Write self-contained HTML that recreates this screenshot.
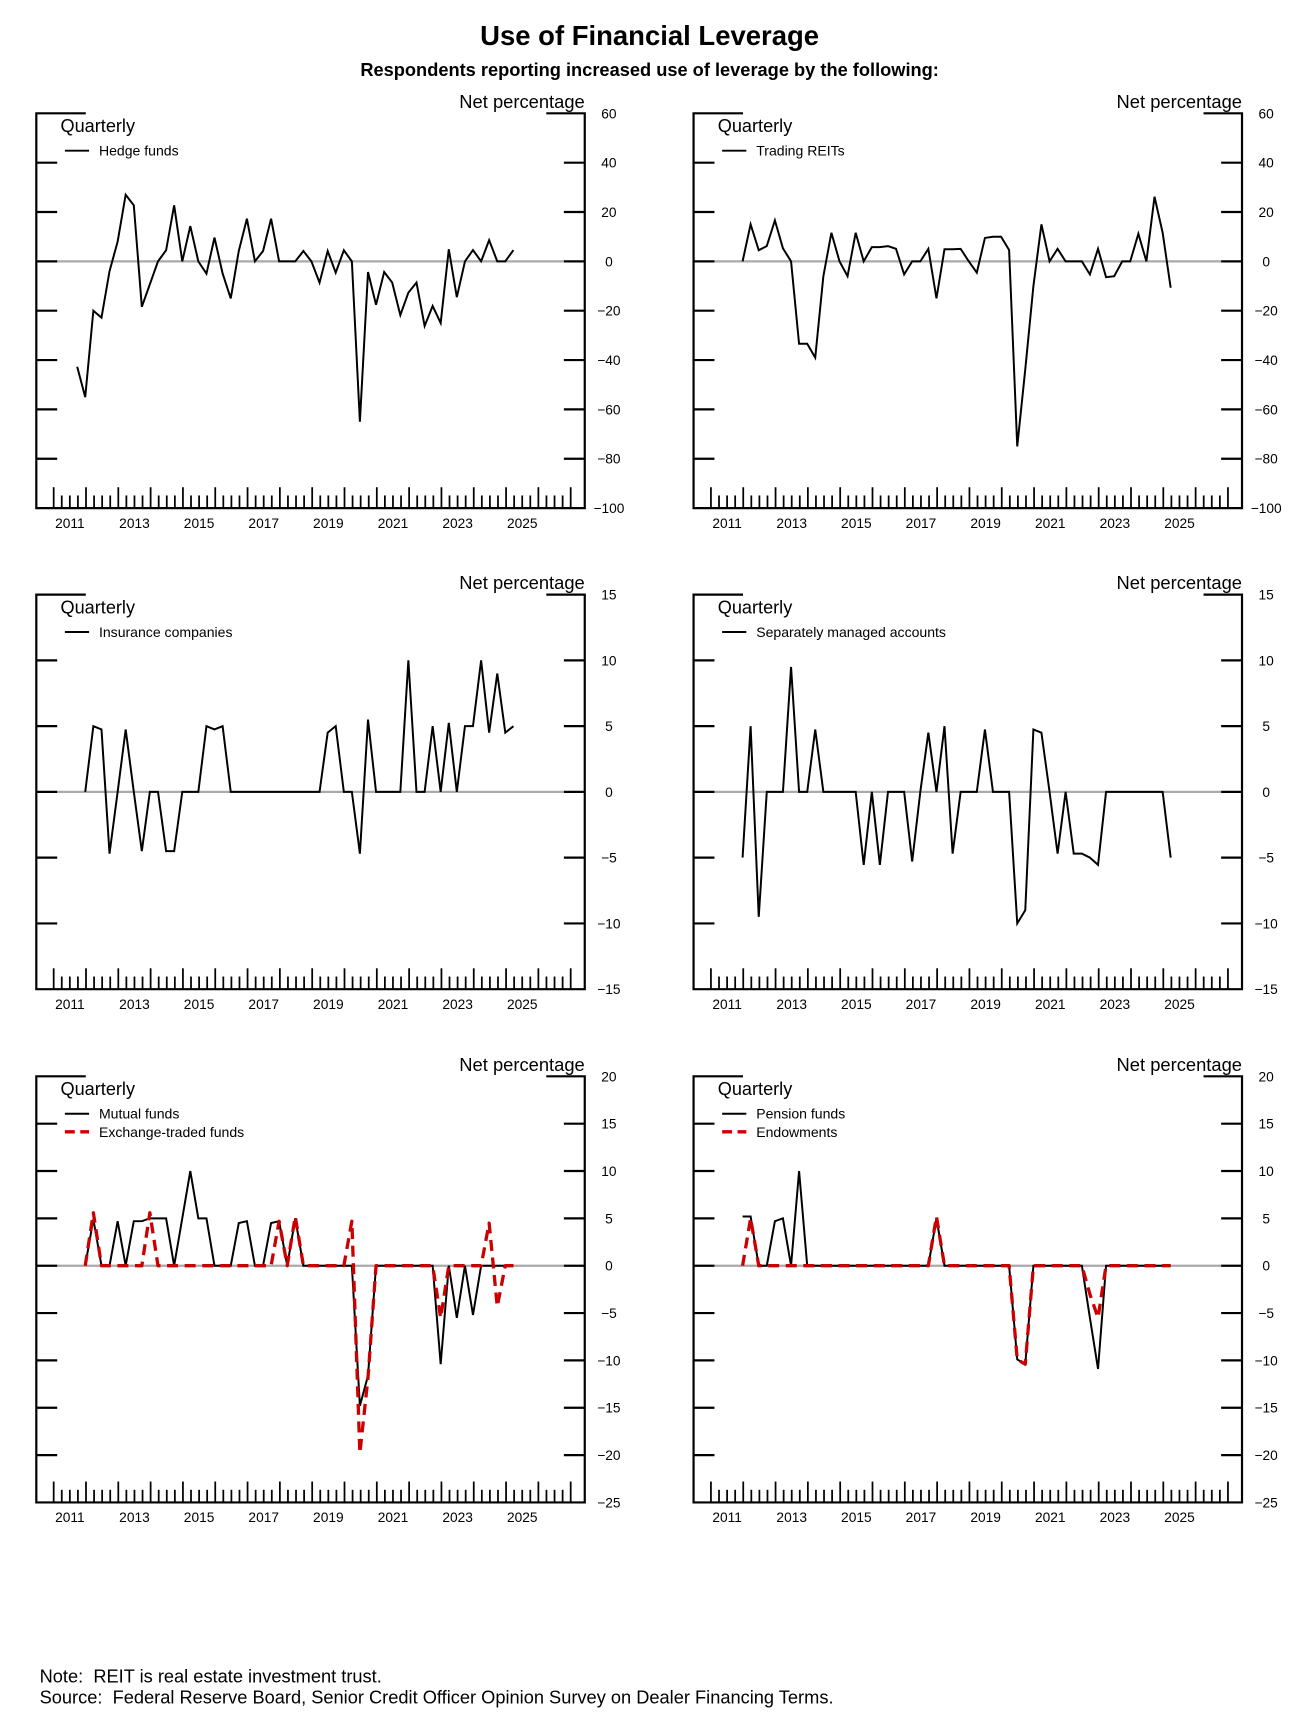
<!DOCTYPE html>
<html><head><meta charset="utf-8"><style>
html,body{margin:0;padding:0;background:#fff;}
svg{display:block;font-family:"Liberation Sans",Arial,sans-serif;}
</style></head><body>
<svg id="s" width="1308" height="1726" viewBox="0 0 1190 1570.4" xmlns="http://www.w3.org/2000/svg"></svg>
<script>
var out=[];
out.push('<rect width="1190" height="1570.4" fill="#fff"/>');
out.push('<text x="591" y="41" font-size="25" font-weight="bold" text-anchor="middle">Use of Financial Leverage</text>');
out.push('<text x="591" y="69" font-size="16.6" font-weight="bold" text-anchor="middle">Respondents reporting increased use of leverage by the following:</text>');
function panel(ox,top,bot,ymax,ymin,step,legend,series){
  var L=33+ox,R=532+ox;
  var sc=function(v){return top+(ymax-v)/(ymax-ymin)*(bot-top);};
  var s='';
  s+='<line x1="'+(L+19)+'" x2="'+(R-19)+'" y1="'+sc(0)+'" y2="'+sc(0)+'" stroke="#aaa" stroke-width="2"/>';
  s+='<path d="M'+(L+45)+' '+top+' H'+L+' V'+bot+' H'+R+' V'+top+' H'+(R-35)+'" fill="none" stroke="#000" stroke-width="2"/>';
  for(var v=ymax;v>=ymin;v-=step){
    var y=sc(v);
    if(v!=ymax&&v!=ymin){
      s+='<line x1="'+L+'" x2="'+(L+19)+'" y1="'+y+'" y2="'+y+'" stroke="#000" stroke-width="2"/>';
      s+='<line x1="'+(R-19)+'" x2="'+R+'" y1="'+y+'" y2="'+y+'" stroke="#000" stroke-width="2"/>';
    }
    s+='<text x="'+(554+ox)+'" y="'+(y+4.5)+'" font-size="12.5" text-anchor="middle">'+(v<0?'\u2212'+(-v):v)+'</text>';
  }
  for(var q=0;q<=64;q++){
    var x=48.8+ox+q*29.4/4;
    var h=(q%4==0)?19:11.5;
    s+='<line x1="'+x+'" x2="'+x+'" y1="'+bot+'" y2="'+(bot-h)+'" stroke="#000" stroke-width="1.6"/>';
  }
  for(var yr=2011;yr<=2025;yr+=2){
    var x=48.8+ox+(yr-2011)*29.4+14.7;
    s+='<text x="'+x+'" y="'+(bot+18)+'" font-size="12.5" text-anchor="middle">'+yr+'</text>';
  }
  s+='<text x="'+R+'" y="'+(top-5)+'" font-size="16.7" text-anchor="end">Net percentage</text>';
  s+='<text x="'+(55+ox)+'" y="'+(top+17)+'" font-size="16.5">Quarterly</text>';
  for(var k=0;k<legend.length;k++){
    var ly=top+34+k*16.5;
    if(legend[k][1]) s+='<line x1="'+(59+ox)+'" x2="'+(81+ox)+'" y1="'+ly+'" y2="'+ly+'" stroke="#c00" stroke-width="3" stroke-dasharray="9,5"/>';
    else s+='<line x1="'+(59+ox)+'" x2="'+(81+ox)+'" y1="'+ly+'" y2="'+ly+'" stroke="#000" stroke-width="1.8"/>';
    s+='<text x="'+(90+ox)+'" y="'+(ly+4.5)+'" font-size="12.8">'+legend[k][0]+'</text>';
  }
  for(var k=0;k<series.length;k++){
    var d=series[k][0],pts=[];
    var base=ox?225:183;
    for(var i=0;i<d.length;i++){
      var idx=Math.round((d[i][0]-base)/19.15);
      pts.push((70.2+ox+7.35*idx).toFixed(1)+','+sc(d[i][1]).toFixed(1));
    }
    if(series[k][1]) s+='<polyline points="'+pts.join(' ')+'" fill="none" stroke="#c00" stroke-width="3" stroke-dasharray="10,6" stroke-linejoin="round"/>';
    else s+='<polyline points="'+pts.join(' ')+'" fill="none" stroke="#000" stroke-width="1.8" stroke-linejoin="miter"/>';
  }
  out.push(s);
}
function seq(a){var r=[];for(var i=0;i<a.length;i+=2)r.push([a[i],a[i+1]]);return r;}
var hedge=seq([183,-42.7,203,-55,222,-20,241,-22.8,260,-4,279,8,299,27,318,22.7,337,-18.4,356,-9.3,375,0,394,4.5,413,22.7,433,0,452,14.3,471,0,490,-5,509,9.6,528,-4.9,547,-15,566,4.2,585,17.3,605,0,624,4.2,643,17.3,662,0,681,0,700,0,720,4.2,739,0,758,-8.6,777,4.2,796,-4.6,815,4.5,835,0,854,-65,873,-4.3,892,-17.6,911,-4.3,931,-8.6,950,-21.8,969,-12.7,988,-8.6,1007,-26.2,1027,-18.1,1046,-25,1065,4.9,1085,-14.5,1104,0,1123,4.6,1142,0,1161,8.6,1180,0,1199,0,1218,4.6]);
var reit=seq([244,0,263,15,283,4.5,302,6.2,321,16.6,340,5.3,360,0,379,-33.4,398,-33.4,417,-39,436,-6,455,11.6,475,0,494,-6,513,11.6,532,0,551,5.8,570,5.8,590,6.2,609,5.1,628,-5.3,647,0,666,0,685,5.1,705,-15,724,4.9,743,4.9,762,5.1,781,0,800,-4.6,820,9.5,839,10,858,10,877,4.6,896,-75,915,-43.8,934,-10,953,15,973,0,992,5.1,1011,0,1030,0,1049,0,1069,-5.3,1088,5.1,1107,-6.4,1126,-6,1145,0,1165,0,1184,11.2,1203,0,1222,26.2,1241,11.6,1261,-10.7]);
function zr(a,b,st){var r=[];for(var x=a;x<=b+1;x+=19.15)r.push(Math.round(x),0);return r;}
var ins=seq([203,0,222,5,241,4.75,260,-4.7,279,0,299,4.75,318,0,337,-4.5,356,0,375,0,394,-4.5,413,-4.5,433,0,452,0,471,0,490,5,509,4.75,528,5].concat(zr(547,758),[777,4.5,796,5,815,0,835,0,854,-4.7,873,5.5,892,0,911,0,931,0,950,0,969,10,988,0,1007,0,1027,5,1046,0,1065,5.25,1085,0,1104,5,1123,5,1142,10,1161,4.5,1180,9,1199,4.5,1218,5]));
var sma=seq([244,-5,263,5,283,-9.5,302,0,321,0,340,0,360,9.5,379,0,398,0,417,4.75,436,0,455,0,475,0,494,0,513,0,532,-5.55,551,0,570,-5.55,590,0,609,0,628,0,647,-5.3,666,0,685,4.5,705,0,724,5,743,-4.7,762,0,781,0,800,0,820,4.75,839,0,858,0,877,0,896,-10,915,-9,934,4.75,953,4.5,973,0,992,-4.7,1011,0,1030,-4.7,1049,-4.7,1069,-5,1088,-5.55].concat(zr(1107,1241),[1261,-5]));
var mf=seq([203,0,222,4.9,241,0,260,0,279,4.7,299,0,318,4.7,337,4.7,356,5,375,5,394,5,413,0,433,5,452,10,471,5,490,5,509,0,528,0,547,0,566,4.5,585,4.7,605,0,624,0,643,4.5,662,4.7,681,0,700,5].concat(zr(720,835),[854,-14.8,873,-11.6],zr(892,1027),[1046,-10.4,1065,0,1085,-5.5,1104,0,1123,-5.2],zr(1142,1218)));
var etf=seq([203,0,222,5.6].concat(zr(241,337),[356,5.6],zr(375,643),[662,4.7,681,0,700,5.2],zr(720,815),[835,4.7,854,-19.8,873,-11.8],zr(892,1027),[1046,-5.5],zr(1065,1142),[1161,4.5,1180,-4.3,1199,0,1218,0]));
var pen=seq([244,5.2,263,5.2,283,0,302,0,321,4.7,340,5,360,0,379,10].concat(zr(398,685),[705,5],zr(724,877),[896,-9.9,915,-10.4],zr(934,1049),[1069,-5.5,1088,-10.9],zr(1107,1261)));
var endo=seq([244,0,263,5].concat(zr(283,685),[705,5.2],zr(724,877),[896,-9.9,915,-10.4],zr(934,1049),[1069,-3,1088,-5.5],zr(1107,1261)));
panel(0,103.1,462.3,60,-100,20,[['Hedge funds',0]],[[hedge,0]]);
panel(598,103.1,462.3,60,-100,20,[['Trading REITs',0]],[[reit,0]]);
panel(0,541,900,15,-15,5,[['Insurance companies',0]],[[ins,0]]);
panel(598,541,900,15,-15,5,[['Separately managed accounts',0]],[[sma,0]]);
panel(0,979.3,1367,20,-25,5,[['Mutual funds',0],['Exchange-traded funds',1]],[[mf,0],[etf,1]]);
panel(598,979.3,1367,20,-25,5,[['Pension funds',0],['Endowments',1]],[[pen,0],[endo,1]]);
out.push('<text x="36" y="1531" font-size="16.6" xml:space="preserve">Note:  REIT is real estate investment trust.</text>');
out.push('<text x="36" y="1550" font-size="16.6" xml:space="preserve">Source:  Federal Reserve Board, Senior Credit Officer Opinion Survey on Dealer Financing Terms.</text>');
document.getElementById('s').innerHTML=out.join('');
</script>
</body></html>
